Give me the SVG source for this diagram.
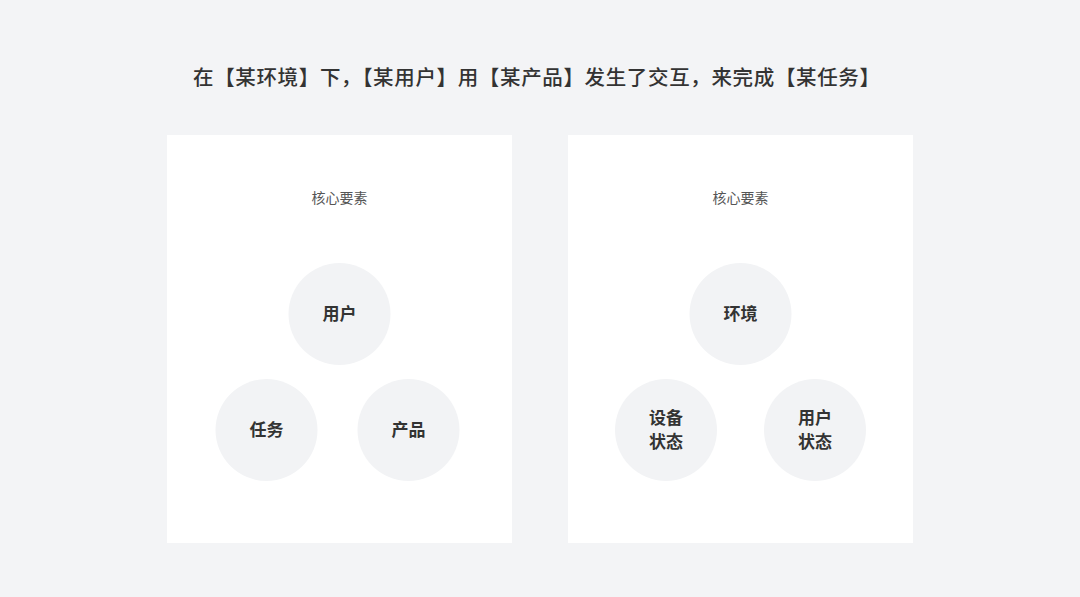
<svg xmlns="http://www.w3.org/2000/svg" width="1080" height="597" viewBox="0 0 1080 597">
<style>
.bg{fill:#f3f4f6}
.panel{fill:#ffffff}
.node{fill:#f2f3f5}
.title{font-family:"Noto Sans CJK SC","Noto Sans",sans-serif;font-size:20.5px;font-weight:500;fill:#333333}
.sub{font-family:"Noto Sans CJK SC","Noto Sans",sans-serif;font-size:14px;fill:#555555}
.lbl{font-family:"Noto Sans CJK SC","Noto Sans",sans-serif;font-size:17px;font-weight:bold;fill:#333333}
</style>
<rect class="bg" x="0" y="0" width="1080" height="597"/>
<text class="title" x="193" y="75.5" textLength="687" lengthAdjust="spacing" dominant-baseline="central">在【某环境】下，【某用户】用【某产品】发生了交互，来完成【某任务】</text>
<g id="panel-left">
<rect class="panel" x="167" y="135" width="345" height="408"/>
<text class="sub" x="339.5" y="197" text-anchor="middle" dominant-baseline="central">核心要素</text>
</g>
<g id="panel-right">
<rect class="panel" x="568" y="135" width="345" height="408"/>
<text class="sub" x="740.5" y="197" text-anchor="middle" dominant-baseline="central">核心要素</text>
</g>
<g id="connectors"></g>
<g id="node-user">
<circle class="node" cx="339.5" cy="314" r="51"/>
<text class="lbl" x="339.5" y="312.5" text-anchor="middle" dominant-baseline="central">用户</text>
</g>
<g id="node-task">
<circle class="node" cx="266.5" cy="430" r="51"/>
<text class="lbl" x="266.5" y="428.5" text-anchor="middle" dominant-baseline="central">任务</text>
</g>
<g id="node-product">
<circle class="node" cx="408.5" cy="430" r="51"/>
<text class="lbl" x="408.5" y="428.5" text-anchor="middle" dominant-baseline="central">产品</text>
</g>
<g id="node-env">
<circle class="node" cx="740.5" cy="314" r="51"/>
<text class="lbl" x="740.5" y="312.5" text-anchor="middle" dominant-baseline="central">环境</text>
</g>
<g id="node-device">
<circle class="node" cx="666" cy="430" r="51"/>
<text class="lbl" x="666" y="416" text-anchor="middle" dominant-baseline="central">设备</text>
<text class="lbl" x="666" y="440.5" text-anchor="middle" dominant-baseline="central">状态</text>
</g>
<g id="node-userstate">
<circle class="node" cx="815" cy="430" r="51"/>
<text class="lbl" x="815" y="416" text-anchor="middle" dominant-baseline="central">用户</text>
<text class="lbl" x="815" y="440.5" text-anchor="middle" dominant-baseline="central">状态</text>
</g>
</svg>
